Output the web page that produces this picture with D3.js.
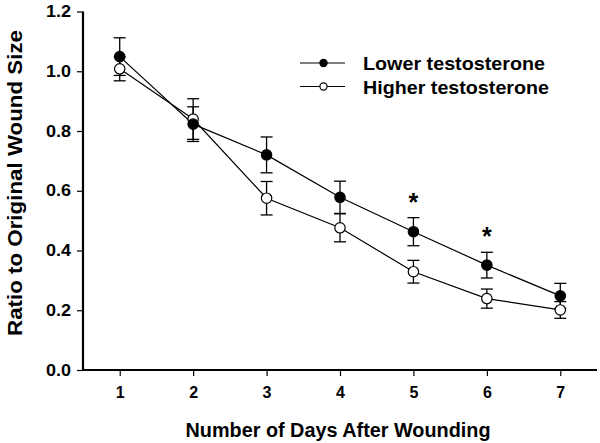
<!DOCTYPE html>
<html>
<head>
<meta charset="utf-8">
<script src="https://cdn.jsdelivr.net/npm/d3@7/dist/d3.min.js"></script>
<style>
  html, body { margin: 0; padding: 0; background: #fff; }
  svg { display: block; }
  text { font-family: "Liberation Sans", Arial, sans-serif; font-weight: bold; fill: #000; }
</style>
</head>
<body>
<svg id="chart" width="600" height="443"></svg>
<script>
// ---- data ----
const days = [1, 2, 3, 4, 5, 6, 7];
const lowerMean = [1.049, 0.823, 0.720, 0.578, 0.463, 0.351, 0.248];
const lowerErr  = [0.063, 0.058, 0.060, 0.054, 0.047, 0.043, 0.042];
const higherMean = [1.008, 0.840, 0.575, 0.476, 0.329, 0.239, 0.201];
const higherErr  = [0.040, 0.068, 0.056, 0.047, 0.038, 0.032, 0.028];
const sigDays = [5, 6];
const yTicks = [0.0, 0.2, 0.4, 0.6, 0.8, 1.0, 1.2];
const seriesNames = ["Lower testosterone", "Higher testosterone"];
const xTitle = "Number of Days After Wounding";
const yTitle = "Ratio to Original Wound Size";

// ---- layout ----
const svg = d3.select("#chart");
const x = d3.scaleLinear().domain([0.5, 7.5]).range([83, 597]);
const y = d3.scaleLinear().domain([0, 1.2]).range([370, 11.5]);

const series = [
  { name: seriesNames[0], mean: lowerMean, err: lowerErr, fill: "#000" },
  { name: seriesNames[1], mean: higherMean, err: higherErr, fill: "#fff" }
];

// axes
const yAxis = d3.axisLeft(y).tickValues(yTicks).tickFormat(d3.format(".1f")).tickSize(6).tickPadding(6);
const gy = svg.append("g").attr("transform", `translate(${x.range()[0]},0)`).call(yAxis);
const xAxis = d3.axisBottom(x).tickValues(days).tickFormat(d3.format("d")).tickSize(6).tickPadding(11);
const gx = svg.append("g").attr("transform", `translate(0,${y(0)})`).call(xAxis);
[gx, gy].forEach(g => {
  g.select(".domain").attr("stroke", "#000").attr("stroke-width", 2.2);
  g.selectAll(".tick line").attr("stroke", "#000").attr("stroke-width", 1.2);
  g.selectAll(".tick text").style("font-size", "16px").style("font-family", "Liberation Sans, Arial, sans-serif").style("font-weight", "bold").attr("fill", "#000");
});
gy.selectAll(".tick text").attr("textLength", 25).attr("lengthAdjust", "spacingAndGlyphs");
gy.select(".domain").attr("d", `M0,${y(1.2)}V${y(0)}`);
gx.select(".domain").attr("d", `M${x.range()[0]},0H${x.range()[1]}`);

// axis titles
svg.append("text")
  .attr("x", 338).attr("y", 437)
  .attr("text-anchor", "middle")
  .attr("textLength", 305).attr("lengthAdjust", "spacingAndGlyphs")
  .style("font-size", "20px")
  .text(xTitle);
svg.append("text")
  .attr("transform", "translate(22,183) rotate(-90)")
  .attr("text-anchor", "middle")
  .attr("textLength", 306).attr("lengthAdjust", "spacingAndGlyphs")
  .style("font-size", "20px")
  .text(yTitle);

// lines
const line = d3.line().x((d, i) => x(days[i])).y(d => y(d));
series.forEach(s => {
  svg.append("path").datum(s.mean).attr("d", line)
    .attr("fill", "none").attr("stroke", "#000").attr("stroke-width", 1.2);
});

// error bars
const capW = 6;
series.forEach(s => {
  const g = svg.append("g").attr("stroke", "#000").attr("stroke-width", 1.3);
  days.forEach((d, i) => {
    const cx = x(d), top = y(s.mean[i] + s.err[i]), bot = y(s.mean[i] - s.err[i]);
    g.append("line").attr("x1", cx).attr("x2", cx).attr("y1", top).attr("y2", bot);
    g.append("line").attr("x1", cx - capW).attr("x2", cx + capW).attr("y1", top).attr("y2", top);
    g.append("line").attr("x1", cx - capW).attr("x2", cx + capW).attr("y1", bot).attr("y2", bot);
  });
});

// markers
[series[1], series[0]].forEach(s => {
  svg.append("g").selectAll("circle").data(s.mean).join("circle")
    .attr("cx", (d, i) => x(days[i])).attr("cy", d => y(d)).attr("r", 5.2)
    .attr("fill", s.fill).attr("stroke", "#000").attr("stroke-width", 1.2);
});

// significance asterisks
sigDays.forEach(d => {
  const i = days.indexOf(d);
  svg.append("text")
    .attr("x", x(d)).attr("y", y(lowerMean[i] + lowerErr[i]) - 7)
    .attr("text-anchor", "middle")
    .style("font-size", "25px")
    .text("*");
});

// legend
const legY = [63, 86.5];
series.forEach((s, k) => {
  const g = svg.append("g");
  g.append("line").attr("x1", 300).attr("x2", 345).attr("y1", legY[k]).attr("y2", legY[k])
    .attr("stroke", "#000").attr("stroke-width", 1.2);
  g.append("circle").attr("cx", 323.5).attr("cy", legY[k]).attr("r", 3.6)
    .attr("fill", s.fill).attr("stroke", "#000").attr("stroke-width", 1.2);
  g.append("text").attr("x", 363).attr("y", legY[k] + 7)
    .attr("textLength", k === 0 ? 182 : 186).attr("lengthAdjust", "spacingAndGlyphs")
    .style("font-size", "19px")
    .text(s.name);
});
</script>
</body>
</html>
